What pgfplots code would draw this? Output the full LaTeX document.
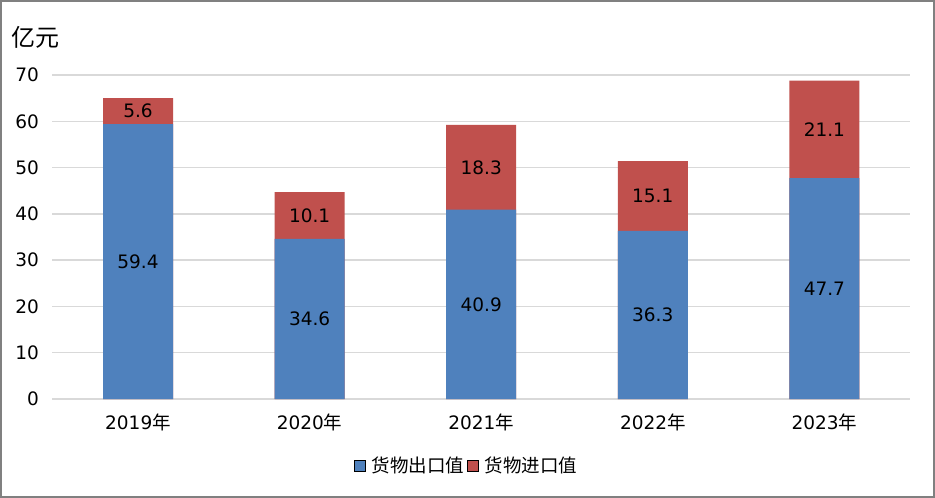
\documentclass[border=0pt]{standalone}
\usepackage{pgfplots}
\pgfplotsset{compat=1.18}
\usepackage{fontspec}
\setmainfont{DejaVu Sans}
\newfontfamily\cjk{Noto Sans CJK SC}
\definecolor{cblue}{HTML}{4F81BD}
\definecolor{cred}{HTML}{C0504D}
\definecolor{cgrid}{HTML}{D9D9D9}
\newcommand\lgf{\fontsize{18.5}{22}\selectfont\cjk}
\begin{document}
\fontsize{18}{21.6}\selectfont
\begin{tikzpicture}[x=1pt,y=1pt]
\useasboundingbox (0,0) rectangle (935,498);
\fill[white] (0,0) rectangle (935,498);
\draw[color=black!50, line width=2pt] (1,1) rectangle (934,497);
\node[anchor=west, inner sep=0pt, font=\cjk\fontsize{24}{28}\selectfont] at (11,461) {亿元};
\begin{axis}[
  at={(138pt,99pt)}, anchor=origin, scale only axis,
  width=858pt, height=324pt,
  xmin=-0.5, xmax=4.5, ymin=0, ymax=70,
  ytick={0,10,...,70}, xtick={0,...,4},
  xticklabels={2019{\cjk 年},2020{\cjk 年},2021{\cjk 年},2022{\cjk 年},2023{\cjk 年}},
  ymajorgrids, grid style={cgrid, line width=1.3pt},
  axis line style={draw=none}, tick style={draw=none},
  /pgf/number format/assume math mode=true,
  tick label style={font=\fontsize{18.5}{22}\selectfont},
  ybar, bar width=70pt,
  x tick label style={yshift=-4pt},
  y tick label style={xshift=-7pt},
  legend style={draw=none, fill=none, at={(0.483,-0.207)}, anchor=center, legend columns=2,
    /tikz/every even column/.append style={column sep=1pt}},
  legend image code/.code={\fill[#1] (0pt,-5.5pt) rectangle (11pt,5.5pt);},
]
\addplot[fill=cred, draw=none, bar shift=0pt, forget plot] coordinates {(0,65.0) (1,44.7) (2,59.2) (3,51.4) (4,68.8)};
\addplot[fill=cblue, draw=none, bar shift=0pt, forget plot] coordinates {(0,59.4) (1,34.6) (2,40.9) (3,36.3) (4,47.7)};
\addplot[draw=none, fill=none, bar shift=0pt, forget plot, nodes near coords, point meta=explicit symbolic,
  every node near coord/.style={anchor=center, text=black, font=\fontsize{18.5}{22}\selectfont}]
  coordinates {(0,29.7)[59.4] (1,17.3)[34.6] (2,20.45)[40.9] (3,18.15)[36.3] (4,23.85)[47.7]
               (0,62.2)[5.6] (1,39.65)[10.1] (2,50.05)[18.3] (3,43.85)[15.1] (4,58.25)[21.1]};
\addlegendimage{fill=cblue}
\addlegendentry{\hspace{4pt}\lgf 货物出口值}
\addlegendimage{fill=cred}
\addlegendentry{\hspace{4pt}\lgf 货物进口值}
\end{axis}
\end{tikzpicture}
\end{document}
